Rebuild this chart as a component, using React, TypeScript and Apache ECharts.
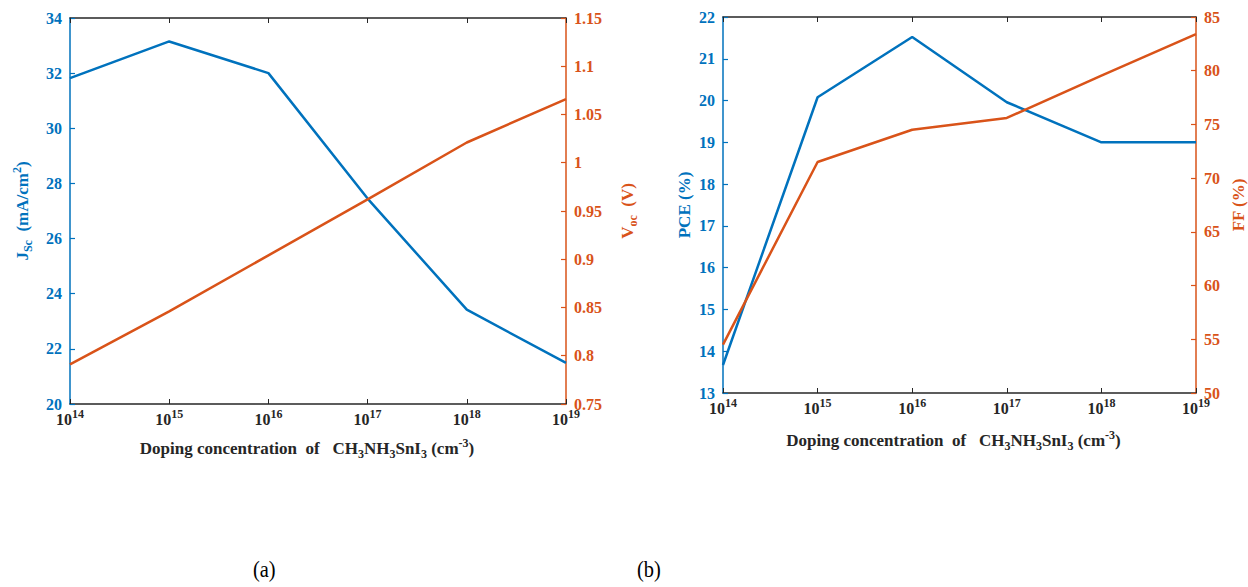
import React, { useEffect, useRef } from "react";
import * as echarts from "echarts";

// ---- data ----
const doping = [1e14, 1e15, 1e16, 1e17, 1e18, 1e19];
const jsc = [31.82, 33.15, 32.0, 27.45, 23.42, 21.49];
const voc = [0.791, 0.846, 0.904, 0.962, 1.021, 1.066];
const pce = [13.67, 20.08, 21.52, 19.96, 19.0, 19.0];
const ff = [54.5, 71.5, 74.5, 75.6, 79.55, 83.4];
const panelLabels = ["(a)", "(b)"];

const BLUE = "#0072BD";
const ORANGE = "#D95319";
const DARK = "#262626";
const FONT = "'Liberation Serif', 'Times New Roman', serif";

const pairs = (xs: number[], ys: number[]) => xs.map((x, i) => [x, ys[i]]);

const xRich = {
  b: { fontSize: 16, fontWeight: "bold", fontFamily: FONT, color: DARK },
  s: { fontSize: 12, fontWeight: "bold", fontFamily: FONT, color: DARK, padding: [0, 0, 11, 0] },
};

const nameRich = (color: string) => ({
  b: { fontSize: 17, fontWeight: "bold", fontFamily: FONT, color },
  sub: { fontSize: 12, fontWeight: "bold", fontFamily: FONT, color, padding: [11, 0, 0, 0] },
  sup: { fontSize: 12, fontWeight: "bold", fontFamily: FONT, color, padding: [0, 0, 11, 0] },
});

const xTitle =
  "{b|Doping concentration  of   CH}{sub|3}{b|NH}{sub|3}{b|SnI}{sub|3}{b| (cm}{sup|-3}{b|)}";

function bottomX(grid: number, gap: number, shift: number) {
  return {
    type: "log",
    logBase: 10,
    gridIndex: grid,
    position: "bottom",
    min: doping[0],
    max: doping[doping.length - 1],
    splitNumber: 5,
    axisLine: { show: true, lineStyle: { color: DARK, width: 1.5 } },
    axisTick: { show: true, inside: true, length: 5, lineStyle: { color: DARK, width: 1 } },
    splitLine: { show: false },
    axisLabel: {
      margin: 4,
      formatter: (v: number) => "{b|10}{s|" + Math.round(Math.log10(v)) + "}",
      rich: xRich,
    },
    name: xTitle,
    nameLocation: "middle",
    nameGap: gap,
    nameTextStyle: { rich: nameRich(DARK), padding: [0, shift, 0, 0] },
  };
}

function topX(grid: number) {
  return {
    type: "log",
    logBase: 10,
    gridIndex: grid,
    position: "top",
    min: doping[0],
    max: doping[doping.length - 1],
    splitNumber: 5,
    axisLine: { show: true, lineStyle: { color: DARK, width: 1.5 } },
    axisTick: { show: true, inside: true, length: 5, lineStyle: { color: DARK, width: 1 } },
    axisLabel: { show: false },
    splitLine: { show: false },
  };
}

function yAx(
  grid: number,
  pos: string,
  color: string,
  min: number,
  max: number,
  interval: number,
  name: string,
  gap: number
) {
  return {
    type: "value",
    gridIndex: grid,
    position: pos,
    min,
    max,
    interval,
    axisLine: { show: true, lineStyle: { color, width: 1.5 } },
    axisTick: { show: true, inside: true, length: 5, lineStyle: { color, width: 1.2 } },
    splitLine: { show: false },
    axisLabel: {
      margin: 8,
      color,
      fontSize: 16,
      fontWeight: "bold",
      fontFamily: FONT,
    },
    name,
    nameLocation: "middle",
    nameRotate: 90,
    nameGap: gap,
    nameTextStyle: { rich: nameRich(color) },
  };
}

function lineSeries(x: number, y: number, data: number[][], color: string) {
  return {
    type: "line",
    xAxisIndex: x,
    yAxisIndex: y,
    data,
    showSymbol: false,
    lineStyle: { color, width: 2.5 },
    itemStyle: { color },
    z: 3,
  };
}

export default function App() {
  const ref = useRef<HTMLDivElement>(null);
  useEffect(() => {
    if (!ref.current) return;
    const chart = echarts.init(ref.current, null, { renderer: "svg" });
    chart.setOption({
      animation: false,
      backgroundColor: "#ffffff",
      grid: [
        { left: 70, top: 18, width: 496, height: 386 },
        { left: 723, top: 17, width: 478, height: 376 },
      ],
      xAxis: [bottomX(0, 33, 22), topX(0), bottomX(1, 36, 12), topX(1)],
      yAxis: [
        yAx(0, "left", BLUE, 20, 34, 2, "{b|J}{sub|Sc}{b|  (mA/cm}{sup|2}{b|)}", 36),
        yAx(0, "right", ORANGE, 0.75, 1.15, 0.05, "{b|V}{sub|oc}{b|  (V)}", 50),
        yAx(1, "left", BLUE, 13, 22, 1, "{b|PCE (%)}", 30),
        yAx(1, "right", ORANGE, 50, 85, 5, "{b|FF (%)}", 34),
      ],
      series: [
        lineSeries(0, 0, pairs(doping, jsc), BLUE),
        lineSeries(0, 1, pairs(doping, voc), ORANGE),
        lineSeries(2, 2, pairs(doping, pce), BLUE),
        lineSeries(2, 3, pairs(doping, ff), ORANGE),
      ],
      graphic: [
        {
          type: "text",
          left: 253,
          top: 557,
          scaleX: 0.85,
          style: { text: panelLabels[0], fontSize: 24, fontFamily: FONT, fill: "#000" },
        },
        {
          type: "text",
          left: 637,
          top: 557,
          scaleX: 0.85,
          style: { text: panelLabels[1], fontSize: 24, fontFamily: FONT, fill: "#000" },
        },
      ],
    });
    return () => chart.dispose();
  }, []);
  return (
    <div
      ref={ref}
      style={{ position: "absolute", left: 0, top: 0, width: 1248, height: 587 }}
    />
  );
}
